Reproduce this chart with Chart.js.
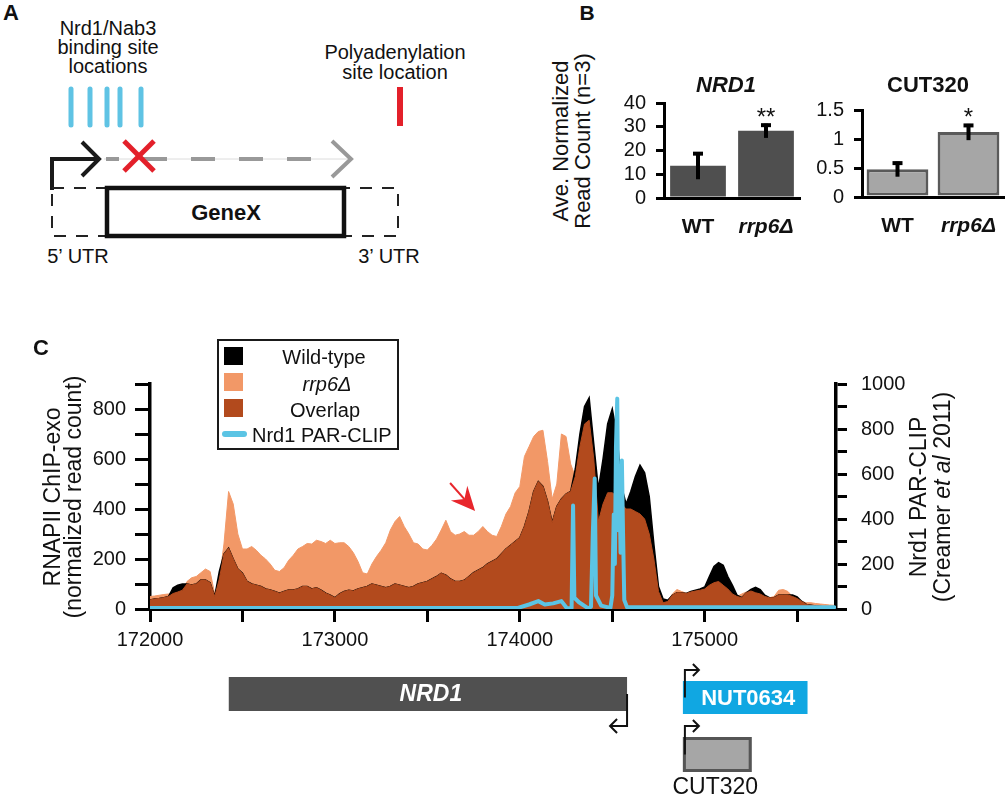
<!DOCTYPE html>
<html><head><meta charset="utf-8">
<script src="https://cdn.jsdelivr.net/npm/chart.js@4.4.1/dist/chart.umd.min.js"></script>
<style>
html,body{margin:0;padding:0;background:#fff;}
body{width:1006px;height:800px;position:relative;overflow:hidden;font-family:'Liberation Sans',Arial,Helvetica,sans-serif;color:#111;}
canvas{position:absolute;}
.t{position:absolute;white-space:nowrap;line-height:1;transform:translate(-50%,-50%);}
.r{position:absolute;white-space:nowrap;line-height:1;transform:translate(-50%,-50%) rotate(-90deg);}
</style></head><body>

<svg width="480" height="280" style="position:absolute;left:0;top:0" font-family="'Liberation Sans',Arial,sans-serif" fill="#111">
  <text x="108" y="35" font-size="20" text-anchor="middle">Nrd1/Nab3</text>
  <text x="108" y="54" font-size="20" text-anchor="middle">binding site</text>
  <text x="108" y="73" font-size="20" text-anchor="middle">locations</text>
  <text x="395" y="59" font-size="20" text-anchor="middle">Polyadenylation</text>
  <text x="395" y="79" font-size="20" text-anchor="middle">site location</text>
  <g stroke="#5fc3e4" stroke-width="5" stroke-linecap="round">
    <line x1="71" y1="89" x2="71" y2="125"/>
    <line x1="90" y1="89" x2="90" y2="125"/>
    <line x1="107" y1="89" x2="107" y2="125"/>
    <line x1="120" y1="89" x2="120" y2="125"/>
    <line x1="141" y1="89" x2="141" y2="125"/>
  </g>
  <line x1="400" y1="87" x2="400" y2="126" stroke="#e3202a" stroke-width="6"/>
  <line x1="104" y1="159" x2="350" y2="159" stroke="#dcdcdc" stroke-width="1"/>
  <line x1="106" y1="159" x2="330" y2="159" stroke="#999" stroke-width="4" stroke-dasharray="24 24" stroke-dashoffset="11"/>
  <polyline points="332,141 351,159 332,177" fill="none" stroke="#999" stroke-width="4"/>
  <polyline points="52,190 52,159 99,159" fill="none" stroke="#1a1a1a" stroke-width="4"/>
  <polyline points="82,142 99,159 82,176" fill="none" stroke="#1a1a1a" stroke-width="4"/>
  <g stroke="#e3202a" stroke-width="5">
    <line x1="124" y1="141" x2="154" y2="171"/>
    <line x1="154" y1="141" x2="124" y2="171"/>
  </g>
  <rect x="52" y="188" width="346" height="48" fill="none" stroke="#222" stroke-width="2" stroke-dasharray="12 10"/>
  <rect x="107" y="188" width="237" height="48" fill="#fff" stroke="#111" stroke-width="4.5"/>
  <text x="226" y="220" font-size="22" font-weight="bold" text-anchor="middle">GeneX</text>
  <text x="78" y="263" font-size="20" text-anchor="middle">5’ UTR</text>
  <text x="389" y="263" font-size="20" text-anchor="middle">3’ UTR</text>
</svg>

<canvas id="cN" width="210" height="180" style="left:600px;top:60px;width:210px;height:180px"></canvas>
<canvas id="cU" width="206" height="180" style="left:800px;top:60px;width:206px;height:180px"></canvas>
<canvas id="cMain" width="1006" height="500" style="left:0;top:300px;width:1006px;height:500px"></canvas>

<div class="t" style="left:11px;top:13px;font-size:22px;font-weight:bold">A</div>
<div class="t" style="left:587px;top:12px;font-size:21px;font-weight:bold">B</div>
<div class="t" style="left:41px;top:348px;font-size:22px;font-weight:bold">C</div>

<div class="r" style="left:561px;top:141px;font-size:22px">Ave. Normalized</div>
<div class="r" style="left:583px;top:141px;font-size:22px">Read Count (n=3)</div>
<div class="t" style="left:726px;top:85px;font-size:22px;font-weight:bold;font-style:italic">NRD1</div>
<div class="t" style="left:928px;top:85px;font-size:22px;font-weight:bold">CUT320</div>

<div class="r" style="left:52px;top:497px;font-size:23px">RNAPII ChIP-exo</div>
<div class="r" style="left:73px;top:497px;font-size:23px">(normalized read count)</div>
<div class="r" style="left:918px;top:497px;font-size:23px">Nrd1 PAR-CLIP</div>
<div class="r" style="left:942px;top:497px;font-size:23px">(Creamer <i>et al</i> 2011)</div>

<div id="legend" style="position:absolute;left:217px;top:339px;width:178px;height:107px;border:2px solid #1a1a1a;font-size:20px;">
  <div style="position:absolute;left:5px;top:6px;width:19px;height:18px;background:#000"></div>
  <div style="position:absolute;left:5px;top:32px;width:19px;height:18px;background:#f29867"></div>
  <div style="position:absolute;left:5px;top:58px;width:19px;height:18px;background:#b24a1d"></div>
  <div style="position:absolute;left:3px;top:90px;width:25px;height:6px;border-radius:3px;background:#5bc4e4"></div>
  <div class="t" style="left:105px;top:16px">Wild-type</div>
  <div class="t" style="left:108px;top:43px;font-style:italic">rrp6Δ</div>
  <div class="t" style="left:106px;top:69px">Overlap</div>
  <div style="position:absolute;left:33px;top:94px;transform:translateY(-50%);line-height:1;white-space:nowrap">Nrd1 PAR-CLIP</div>
</div>

<script>
// ---------------- Panel B data ----------------
const strainLabels = ['WT', 'rrp6Δ'];
const nrd1Mean = [13.6, 28.3];
const nrd1Err = [5.7, 3.0];
const nrd1Sig = ['', '**'];
const nrd1Ticks = [0, 10, 20, 30, 40];
const cut320Mean = [0.48, 1.12];
const cut320Err = [0.13, 0.14];
const cut320Sig = ['', '*'];
const cut320Ticks = [0, 0.5, 1, 1.5];

// ---------------- Panel C data ----------------
const positions = [
172000,172025,172050,172075,172100,172125,172150,172175,172200,172225,
172250,172275,172300,172325,172350,172375,172400,172425,172450,172475,
172500,172525,172550,172575,172600,172625,172650,172675,172700,172725,
172750,172775,172800,172825,172850,172875,172900,172925,172950,172975,
173000,173025,173050,173075,173100,173125,173150,173175,173200,173225,
173250,173275,173300,173325,173350,173375,173400,173425,173450,173475,
173500,173525,173550,173575,173600,173625,173650,173675,173700,173725,
173750,173775,173800,173825,173850,173875,173900,173925,173950,173975,
174000,174025,174050,174075,174100,174125,174150,174175,174200,174225,
174250,174275,174300,174325,174350,174375,174400,174425,174450,174475,
174500,174525,174550,174575,174600,174625,174650,174675,174700,174725,
174750,174775,174800,174825,174850,174875,174900,174925,174950,174975,
175000,175025,175050,175075,175100,175125,175150,175175,175200,175225,
175250,175275,175300,175325,175350,175375,175400,175425,175450,175475,
175500,175525,175550,175575,175600,175625,175650,175675,175700];

const rrp6 = [
50,52,55,58,60,62,68,75,110,125,
130,145,160,150,60,120,260,470,420,300,
240,240,250,235,215,200,180,155,150,165,
195,215,240,250,262,260,275,270,262,275,
262,265,265,250,225,190,145,140,180,210,
235,265,316,350,370,330,300,265,260,240,
236,255,280,316,355,310,295,300,310,295,
295,310,330,310,295,290,330,380,410,465,
490,610,650,690,710,715,590,440,500,700,
690,580,530,650,740,755,600,350,420,465,
465,450,420,400,400,390,380,360,300,200,
70,25,30,60,78,70,63,68,72,75,
80,95,105,110,95,80,60,50,60,68,
72,65,60,50,45,50,75,78,70,50,
42,30,25,25,22,20,18,16,15];

const wildType = [
36,40,42,45,50,85,95,100,100,96,
100,116,116,105,50,150,220,243,200,160,
143,110,100,95,90,80,76,70,63,70,
76,76,80,90,90,80,85,75,63,55,
45,60,70,75,72,80,85,90,100,95,
90,85,90,100,95,90,85,90,100,105,
110,120,130,143,135,120,110,110,115,130,
145,155,165,180,190,200,220,240,255,270,
285,330,390,470,510,490,430,345,410,440,
460,470,560,700,810,845,660,480,600,740,
800,700,490,420,470,530,575,545,450,260,
90,40,35,55,65,65,62,70,75,80,
88,130,170,185,175,130,95,55,45,65,
78,87,78,55,45,45,56,56,56,56,
48,30,18,15,12,10,8,6,5];

// region where both strains have signal (drawn in brown)
const overlap = wildType.map((v, i) => Math.min(v, rrp6[i]));

const parPos = [172000,173990,174050,174100,174135,174180,174225,174255,174280,174288,174295,174320,174370,174385,174395,174405,174412,174440,174490,174500,174508,174514,174520,174527,174533,174539,174545,174552,174558,174565,174580,175700];
const parVal = [5,5,20,35,20,25,35,3,5,460,50,30,3,10,340,580,60,15,5,60,420,200,720,935,350,560,250,660,350,40,8,8];

const xTickValues = [172000, 172500, 173000, 173500, 174000, 174500, 175000, 175500];
const xTickLabels = ['172000', '', '173000', '', '174000', '', '175000', ''];
const leftTickValues = [0, 100, 200, 300, 400, 500, 600, 700, 800, 900];
const rightTickValues = [0, 100, 200, 300, 400, 500, 600, 700, 800, 900, 1000];

const geneNames = ['NRD1', 'NUT0634', 'CUT320'];
const geneStart = [172426, 174882, 174882];
const geneEnd = [174580, 175556, 175254];
const geneStrand = [-1, 1, 1];

const arrowTarget = { pos: 173758, val: 392 };

// ---------------- styles ----------------
const FONT = "'Liberation Sans', Arial, Helvetica, sans-serif";
const ORANGE = '#f29867', BROWN = '#b24a1d', BLUE = '#5bc4e4';
Chart.defaults.font.family = FONT;
Chart.defaults.color = '#111';

const geneStyle = [
  { top: 68, h: 34, fill: '#505050', stroke: null, text: '#fff', font: 'italic bold 23px ' + FONT, inside: true },
  { top: 72, h: 33, fill: '#10a7e2', stroke: null, text: '#fff', font: 'bold 22px ' + FONT, inside: true },
  { top: 128, h: 35, fill: '#a6a6a6', stroke: '#555', text: '#111', font: '23px ' + FONT, inside: false, labelDy: 179 }
];

const setTicks = (vals) => (s) => { s.ticks = vals.map((v) => ({ value: v })); };

const errorBarPlugin = {
  id: 'errorBars',
  afterDatasetsDraw(chart, args, opts) {
    const { ctx } = chart;
    const y = chart.scales.y;
    const meta = chart.getDatasetMeta(0);
    const vals = chart.data.datasets[0].data;
    ctx.save();
    ctx.strokeStyle = '#000';
    ctx.lineWidth = 4;
    ctx.fillStyle = '#111';
    ctx.font = '24px ' + FONT;
    ctx.textAlign = 'center';
    ctx.textBaseline = 'alphabetic';
    meta.data.forEach((bar, i) => {
      const top = y.getPixelForValue(vals[i] + opts.errors[i]);
      const bot = y.getPixelForValue(vals[i] - opts.errors[i]);
      ctx.beginPath();
      ctx.moveTo(bar.x, bot); ctx.lineTo(bar.x, top);
      ctx.stroke();
      ctx.beginPath();
      ctx.moveTo(bar.x - 5, top + 1.5); ctx.lineTo(bar.x + 5, top + 1.5);
      ctx.stroke();
      if (opts.stars[i]) ctx.fillText(opts.stars[i], bar.x, top + 1);
    });
    ctx.restore();
  }
};

function makeBar(id, vals, errs, stars, ticks, fill, stroke, bw, barPct, pad, yW, xH) {
  return new Chart(document.getElementById(id), {
    type: 'bar',
    data: { labels: strainLabels, datasets: [{
      data: vals, backgroundColor: fill, borderColor: stroke, borderWidth: bw,
      borderSkipped: false, barPercentage: barPct, categoryPercentage: 1
    }]},
    options: {
      responsive: false, animation: false,
      layout: { padding: pad },
      plugins: { legend: { display: false }, tooltip: { enabled: false },
        errorBars: { errors: errs, stars: stars } },
      scales: {
        x: {
          grid: { display: false },
          border: { display: true, color: '#000', width: 3 },
          ticks: { padding: 9, color: '#111',
            font: (c) => ({ size: 21, weight: 'bold', style: c.index === 1 ? 'italic' : 'normal' }) },
          afterFit(s) { s.height = xH; }
        },
        y: {
          min: ticks[0], max: ticks[ticks.length - 1],
          afterBuildTicks: setTicks(ticks),
          ticks: { autoSkip: false, padding: 10, color: '#111', font: { size: 20 }, callback: (v) => String(v) },
          grid: { drawOnChartArea: false, drawTicks: true, tickLength: 8, color: '#000', lineWidth: 3 },
          border: { display: true, color: '#000', width: 3 },
          afterFit(s) { s.width = yW; }
        }
      }
    },
    plugins: [errorBarPlugin]
  });
}

makeBar('cN', nrd1Mean, nrd1Err, nrd1Sig, nrd1Ticks, '#4f4f4f', '#4f4f4f', 0, 0.82,
  { top: 43, right: 10, bottom: 0, left: 0 }, 64, 42);
makeBar('cU', cut320Mean, cut320Err, cut320Sig, cut320Ticks, '#a6a6a6', '#5a5a5a', 3, 0.87,
  { top: 50, right: 2, bottom: 0, left: 0 }, 62, 43);

// ---------------- Panel C ----------------
const annotPlugin = {
  id: 'annot',
  afterDraw(chart) {
    const { ctx, chartArea } = chart;
    const x = chart.scales.x, y = chart.scales.y;
    const base = chartArea.bottom;
    ctx.save();
    // red arrow pointing at the rrp6 signal
    const tx = x.getPixelForValue(arrowTarget.pos), ty = y.getPixelForValue(arrowTarget.val);
    const sx = tx - 25, sy = ty - 28;
    const len = Math.hypot(tx - sx, ty - sy);
    const dx = (tx - sx) / len, dy = (ty - sy) / len, nx = -dy, ny = dx;
    const L = 24, W = 11, N = 8;
    const bx = tx - dx * L, by = ty - dy * L;
    const kx = tx - dx * (L - N), ky = ty - dy * (L - N);
    ctx.strokeStyle = '#e8262c'; ctx.fillStyle = '#e8262c'; ctx.lineWidth = 2;
    ctx.beginPath(); ctx.moveTo(sx, sy); ctx.lineTo(kx, ky); ctx.stroke();
    ctx.beginPath();
    ctx.moveTo(tx, ty); ctx.lineTo(bx + nx * W, by + ny * W); ctx.lineTo(kx, ky);
    ctx.lineTo(bx - nx * W, by - ny * W); ctx.closePath(); ctx.fill();

    // gene annotation track
    geneNames.forEach((name, i) => {
      const st = geneStyle[i];
      const x0 = x.getPixelForValue(geneStart[i]), x1 = x.getPixelForValue(geneEnd[i]);
      const top = base + st.top;
      ctx.fillStyle = st.fill;
      ctx.fillRect(x0, top, x1 - x0, st.h);
      if (st.stroke) {
        ctx.strokeStyle = st.stroke; ctx.lineWidth = 3;
        ctx.strokeRect(x0 + 1.5, top + 1.5, x1 - x0 - 3, st.h - 3);
      }
      ctx.fillStyle = st.text; ctx.font = st.font; ctx.textAlign = 'center'; ctx.textBaseline = 'middle';
      if (st.inside) ctx.fillText(name, (x0 + x1) / 2 + 3, top + st.h / 2 + 1);
      else ctx.fillText(name, (x0 + x1) / 2 - 2, base + st.labelDy);
      // transcription start arrows
      ctx.strokeStyle = '#111'; ctx.lineWidth = 2; ctx.lineJoin = 'miter';
      ctx.beginPath();
      if (geneStrand[i] < 0) {
        const ax = x1, y0 = top + st.h / 2, y1 = top + st.h + 15;
        ctx.moveTo(ax, y0); ctx.lineTo(ax, y1); ctx.lineTo(ax - 17, y1);
        ctx.moveTo(ax - 10, y1 - 7); ctx.lineTo(ax - 17, y1); ctx.lineTo(ax - 10, y1 + 7);
      } else {
        const ax = x0 + 2, y0 = top + st.h / 2, y1 = top - 11;
        ctx.moveTo(ax, y0); ctx.lineTo(ax, y1); ctx.lineTo(ax + 14, y1);
        ctx.moveTo(ax + 8, y1 - 6); ctx.lineTo(ax + 14, y1); ctx.lineTo(ax + 8, y1 + 6);
      }
      ctx.stroke();
    });
    ctx.restore();
  }
};

const toPts = (arr) => positions.map((p, i) => ({ x: p, y: arr[i] }));

new Chart(document.getElementById('cMain'), {
  type: 'line',
  data: { datasets: [
    { label: 'Nrd1 PAR-CLIP', data: parPos.map((p, i) => ({ x: p, y: parVal[i] })), yAxisID: 'y2',
      borderColor: BLUE, borderWidth: 4, pointRadius: 0, fill: false, tension: 0, order: 0,
      borderJoinStyle: 'round', borderCapStyle: 'round' },
    { label: 'Overlap', data: toPts(overlap), yAxisID: 'y', borderColor: BROWN, backgroundColor: BROWN,
      borderWidth: 1, pointRadius: 0, fill: 'origin', tension: 0, order: 1 },
    { label: 'Wild-type', data: toPts(wildType), yAxisID: 'y', borderColor: '#000', backgroundColor: '#000',
      borderWidth: 1.5, pointRadius: 0, fill: 'origin', tension: 0, order: 2 },
    { label: 'rrp6Δ', data: toPts(rrp6), yAxisID: 'y', borderColor: ORANGE, backgroundColor: ORANGE,
      borderWidth: 1, pointRadius: 0, fill: 'origin', tension: 0, order: 3 }
  ]},
  options: {
    responsive: false, animation: false,
    layout: { padding: { top: 84, bottom: 150, left: 0, right: 0 } },
    plugins: { legend: { display: false }, tooltip: { enabled: false } },
    scales: {
      x: {
        type: 'linear', min: 172000, max: 175710,
        afterBuildTicks: setTicks(xTickValues),
        ticks: { autoSkip: false, maxRotation: 0, padding: 6, color: '#111', font: { size: 20 },
          callback: (v, i) => xTickLabels[i] },
        grid: { drawOnChartArea: false, drawTicks: true, tickLength: 13, color: '#000', lineWidth: 3 },
        border: { display: true, color: '#000', width: 3 },
        afterFit(s) { s.height = 41; }
      },
      y: {
        position: 'left', min: 0, max: 900,
        afterBuildTicks: setTicks(leftTickValues),
        ticks: { autoSkip: false, padding: 9, color: '#111', font: { size: 20 },
          callback: (v) => (v % 200 === 0 ? String(v) : '') },
        grid: { drawOnChartArea: false, drawTicks: true, tickLength: 15, color: '#000', lineWidth: 3 },
        border: { display: true, color: '#000', width: 3.5 },
        afterFit(s) { s.width = 150; }
      },
      y2: {
        position: 'right', min: 0, max: 1000,
        afterBuildTicks: setTicks(rightTickValues),
        ticks: { autoSkip: false, padding: 14, color: '#111', font: { size: 20 },
          callback: (v) => (v % 200 === 0 ? String(v) : '') },
        grid: { drawOnChartArea: false, drawTicks: true, tickLength: 11, color: '#000', lineWidth: 3 },
        border: { display: true, color: '#000', width: 3.5 },
        afterFit(s) { s.width = 170; }
      }
    }
  },
  plugins: [annotPlugin]
});
</script>
</body></html>
